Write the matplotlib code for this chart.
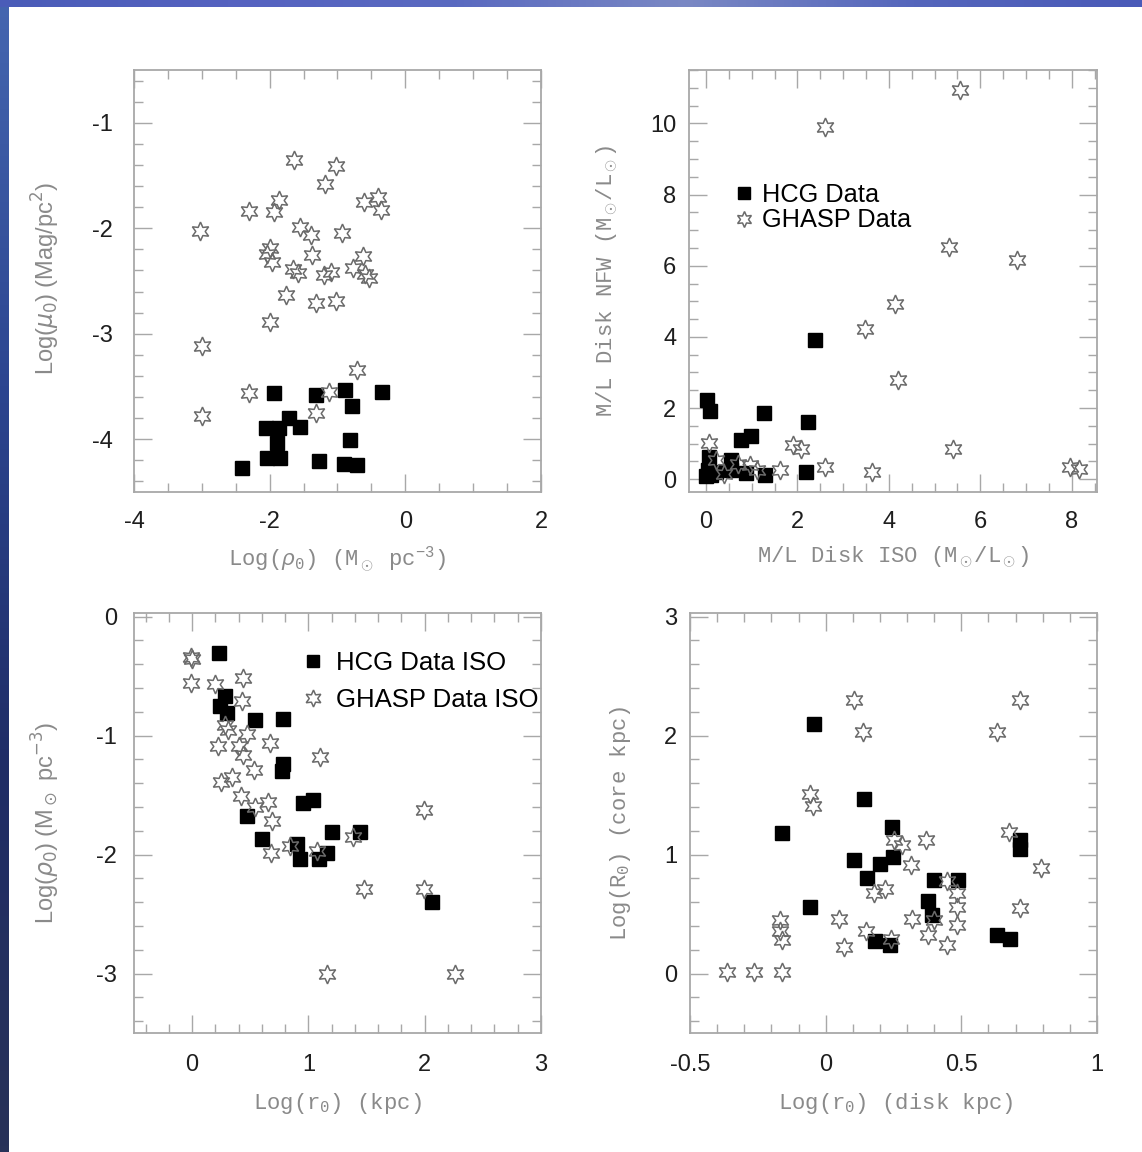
import numpy as np
import matplotlib
matplotlib.use("Agg")
import matplotlib.pyplot as plt
from matplotlib.ticker import MultipleLocator, FuncFormatter

plt.rcParams["axes.unicode_minus"] = False
plt.rcParams["mathtext.fontset"] = "custom"
plt.rcParams["mathtext.rm"] = "Liberation Mono"
plt.rcParams["mathtext.it"] = "Liberation Mono:italic"
plt.rcParams["mathtext.bf"] = "Liberation Mono:bold"

# --- panel 1: Log(mu0) vs Log(rho0)
p1_hcg_x = [-1.94, -1.31, -0.89, -0.35, -0.79, -1.71, -2.05, -1.86, -1.55, -1.89,
            -0.82, -2.04, -1.84, -2.40, -1.27, -0.90, -0.71]
p1_hcg_y = [-3.56, -3.58, -3.53, -3.55, -3.68, -3.80, -3.89, -3.89, -3.88, -4.04,
            -4.01, -4.18, -4.18, -4.27, -4.21, -4.23, -4.24]
p1_ghasp_x = [-1.64, -1.02, -1.18, -1.86, -2.31, -1.94, -0.61, -0.40, -0.36, -3.02,
              -1.55, -1.39, -0.94, -2.00, -2.04, -1.97, -1.38, -0.63, -1.65, -1.58,
              -1.20, -1.10, -0.77, -0.59, -0.54, -1.76, -1.32, -1.02, -2.00, -3.00,
              -0.71, -2.31, -1.13, -3.00, -1.32]
p1_ghasp_y = [-1.35, -1.41, -1.58, -1.73, -1.84, -1.85, -1.75, -1.70, -1.83, -2.03,
              -1.99, -2.06, -2.04, -2.19, -2.24, -2.32, -2.25, -2.26, -2.39, -2.42,
              -2.44, -2.41, -2.38, -2.43, -2.47, -2.63, -2.71, -2.69, -2.89, -3.12,
              -3.34, -3.56, -3.55, -3.78, -3.75]

# --- panel 2: M/L NFW vs M/L ISO
p2_hcg_x = [0.03, 0.09, 1.27, 2.24, 0.76, 0.98, 2.39, 0.07, 0.54, 0.54,
            0.05, 0.22, 0.01, 0.88, 1.29, 2.19, 0.12]
p2_hcg_y = [2.22, 1.92, 1.86, 1.61, 1.10, 1.21, 3.90, 0.63, 0.53, 0.27,
            0.25, 0.21, 0.08, 0.18, 0.11, 0.21, 0.11]
p2_ghasp_x = [5.56, 2.60, 5.32, 6.80, 4.14, 3.48, 4.21, 5.40, 0.07, 1.91,
              2.09, 2.60, 3.63, 1.62, 7.97, 8.15, 0.23, 0.71, 0.96, 1.11, 0.40]
p2_ghasp_y = [10.95, 9.90, 6.53, 6.15, 4.93, 4.23, 2.80, 0.86, 1.02, 0.96,
              0.86, 0.35, 0.21, 0.27, 0.33, 0.30, 0.53, 0.44, 0.39, 0.27, 0.15]

# --- panel 3: Log(rho0) vs Log(r0)
p3_hcg_x = [0.23, 0.28, 0.24, 0.30, 0.54, 0.78, 0.78, 0.77, 0.95, 1.04,
            0.47, 0.60, 1.20, 1.44, 0.90, 0.93, 1.09, 1.16, 2.06]
p3_hcg_y = [-0.31, -0.67, -0.75, -0.81, -0.87, -0.86, -1.24, -1.30, -1.57, -1.54,
            -1.68, -1.87, -1.81, -1.81, -1.91, -2.04, -2.04, -1.99, -2.40]
p3_ghasp_x = [-0.01, -0.01, 0.20, 0.44, 0.43, 0.28, 0.47, 0.22, 0.40, 0.67,
              0.44, 0.53, 0.34, 0.25, 1.10, 0.42, 0.65, 0.54, 0.69, 0.68,
              0.84, 1.07, 1.38, 1.99, 1.48, 1.99, 1.16, 2.26, 0.00, 0.31]
p3_ghasp_y = [-0.34, -0.56, -0.57, -0.52, -0.71, -0.91, -0.99, -1.09, -1.09, -1.06,
              -1.16, -1.29, -1.35, -1.39, -1.18, -1.51, -1.56, -1.60, -1.72, -1.99,
              -1.93, -1.97, -1.85, -1.63, -2.29, -2.29, -3.00, -3.00, -0.36, -0.95]

# --- panel 4: Log(R0 core) vs Log(r0 disk)
p4_hcg_x = [-0.044, 0.140, -0.161, 0.243, 0.103, 0.202, 0.249, 0.153, 0.401, 0.488,
            0.377, 0.393, 0.717, 0.717, -0.057, 0.180, 0.236, 0.633, 0.680]
p4_hcg_y = [2.10, 1.47, 1.18, 1.23, 0.95, 0.92, 0.98, 0.80, 0.79, 0.79,
            0.61, 0.49, 1.12, 1.05, 0.56, 0.27, 0.24, 0.32, 0.29]
p4_ghasp_x = [0.103, 0.138, 0.717, 0.633, -0.057, -0.047, 0.676, 0.368, 0.282, 0.251,
              0.313, 0.793, 0.177, 0.217, 0.485, 0.448, 0.485, 0.717, 0.319, 0.048,
              0.399, 0.485, -0.170, -0.167, -0.161, 0.150, 0.377, 0.448, 0.067, 0.241,
              -0.365, -0.264, -0.161]
p4_ghasp_y = [2.30, 2.03, 2.30, 2.03, 1.51, 1.41, 1.19, 1.12, 1.08, 1.12,
              0.91, 0.89, 0.68, 0.71, 0.68, 0.78, 0.56, 0.55, 0.46, 0.46,
              0.45, 0.41, 0.45, 0.36, 0.28, 0.36, 0.32, 0.24, 0.22, 0.29,
              0.01, 0.01, 0.01]

FRAME = "#a8a8a8"
LABEL_C = "#8a8a8a"
TICK_C = "#1e1e1e"
STAR = (6, 1, 0)
MONO = ["Liberation Mono", "DejaVu Sans Mono", "DejaVu Sans"]
SANS = ["Liberation Sans", "DejaVu Sans"]


def fmt(v, pos):
    return "%g" % round(v, 3)


def style(ax, xlim, ylim, xmaj, xmin, ymaj, ymin, xpad, ypad):
    ax.set_xlim(*xlim)
    ax.set_ylim(*ylim)
    ax.xaxis.set_major_locator(MultipleLocator(xmaj))
    ax.xaxis.set_minor_locator(MultipleLocator(xmin))
    ax.yaxis.set_major_locator(MultipleLocator(ymaj))
    ax.yaxis.set_minor_locator(MultipleLocator(ymin))
    ax.xaxis.set_major_formatter(FuncFormatter(fmt))
    ax.yaxis.set_major_formatter(FuncFormatter(fmt))
    ax.tick_params(which="both", direction="in", top=True, right=True,
                   color=FRAME, width=1.0, labelcolor=TICK_C, labelsize=17)
    ax.tick_params(which="major", length=13)
    ax.tick_params(which="minor", length=6.5)
    ax.tick_params(axis="x", pad=xpad)
    ax.tick_params(axis="y", pad=ypad)
    for lab in ax.get_xticklabels() + ax.get_yticklabels():
        lab.set_family(SANS)
    for s in ax.spines.values():
        s.set_color(FRAME)
        s.set_linewidth(1.3)


def draw(ax, hx, hy, gx, gy, hlab=None, glab=None):
    ax.plot(hx, hy, ls="none", marker="s", ms=9.5, color="black", label=hlab, zorder=3)
    ax.plot(gx, gy, ls="none", marker=STAR, ms=13.5, mfc="none", mec="#6a6a6a",
            mew=1.1, label=glab, zorder=4)


fig = plt.figure(figsize=(11.42, 11.52), dpi=100)

# slide background strips (left and top edge)
bl = fig.add_axes([0, 0, 9 / 1142, 1])
bl.imshow(np.linspace(0, 1, 200)[:, None], aspect="auto", cmap=matplotlib.colors.LinearSegmentedColormap.from_list(
    "l", ["#4566b0", "#2c4590", "#1f2d66", "#283258"]), extent=[0, 1, 0, 1], origin="upper")
bl.axis("off")
bt = fig.add_axes([0, 1 - 7 / 1152, 1, 7 / 1152])
bt.imshow(np.linspace(0, 1, 300)[None, :], aspect="auto", cmap=matplotlib.colors.LinearSegmentedColormap.from_list(
    "t", ["#4a5cb8", "#5562c0", "#5a6ac0", "#7a88c4", "#5566bc", "#4a5ab8"]), extent=[0, 1, 0, 1])
bt.axis("off")

ax1 = fig.add_axes([0.1173, 0.5729, 0.3564, 0.3663])
ax2 = fig.add_axes([0.6033, 0.5729, 0.3573, 0.3663])
ax3 = fig.add_axes([0.1173, 0.1033, 0.3564, 0.3646])
ax4 = fig.add_axes([0.6042, 0.1033, 0.3564, 0.3646])

draw(ax1, p1_hcg_x, p1_hcg_y, p1_ghasp_x, p1_ghasp_y)
style(ax1, (-4, 2), (-4.5, -0.5), 2, 0.5, 1, 0.2, 14, 15)
ax1.set_xlabel(r"Log($\rho_0$) (M$_\odot$ pc$^{-3}$)", family=MONO, fontsize=16, color=LABEL_C)
ax1.set_ylabel(r"Log($\mu_0$) (Mag/pc$^2$)", family=SANS, fontsize=17, color=LABEL_C,
               math_fontfamily="dejavusans")
ax1.xaxis.set_label_coords(0.5, -0.125)
ax1.yaxis.set_label_coords(-0.177, 0.507)

draw(ax2, p2_hcg_x, p2_hcg_y, p2_ghasp_x, p2_ghasp_y, "HCG Data", "GHASP Data")
style(ax2, (-0.37, 8.55), (-0.36, 11.5), 2, 0.5, 2, 0.5, 14, 9)
ax2.set_xlabel(r"M/L Disk ISO (M$_\odot$/L$_\odot$)", family=MONO, fontsize=16, color=LABEL_C)
ax2.set_ylabel(r"M/L Disk NFW (M$_\odot$/L$_\odot$)", family=MONO, fontsize=16, color=LABEL_C)
ax2.xaxis.set_label_coords(0.5, -0.125)
ax2.yaxis.set_label_coords(-0.169, 0.5)
ax2.legend(loc="upper left", bbox_to_anchor=(0.08, 0.762), frameon=False,
           prop={"family": SANS, "size": 18.3}, handlelength=0.8, handletextpad=0.3,
           labelspacing=0.05, markerscale=0.85, borderpad=0)

draw(ax3, p3_hcg_x, p3_hcg_y, p3_ghasp_x, p3_ghasp_y, "HCG Data ISO", "GHASP Data ISO")
style(ax3, (-0.5, 3), (-3.5, 0.03), 1, 0.2, 1, 0.2, 15, 12)
ax3.set_xlabel(r"Log(r$_0$) (kpc)", family=MONO, fontsize=16, color=LABEL_C)
ax3.set_ylabel(r"Log($\rho_0$) (M$_\odot$ pc$^{-3}$)", family=SANS, fontsize=17, color=LABEL_C,
               math_fontfamily="dejavusans")
ax3.xaxis.set_label_coords(0.5, -0.138)
ax3.yaxis.set_label_coords(-0.177, 0.5)
ax3.legend(loc="upper left", bbox_to_anchor=(0.38, 0.94), frameon=False,
           prop={"family": SANS, "size": 18.5}, handlelength=0.9, handletextpad=0.45,
           labelspacing=0.5, markerscale=0.9, borderpad=0)

draw(ax4, p4_hcg_x, p4_hcg_y, p4_ghasp_x, p4_ghasp_y)
style(ax4, (-0.5, 1), (-0.5, 3.03), 0.5, 0.1, 1, 0.2, 15, 9)
ax4.set_xlabel(r"Log(r$_0$) (disk kpc)", family=MONO, fontsize=16, color=LABEL_C)
ax4.set_ylabel(r"Log(R$_0$) (core kpc)", family=MONO, fontsize=16, color=LABEL_C)
ax4.xaxis.set_label_coords(0.505, -0.138)
ax4.yaxis.set_label_coords(-0.14, 0.5)

fig.savefig("out.png", dpi=100, facecolor="white")
